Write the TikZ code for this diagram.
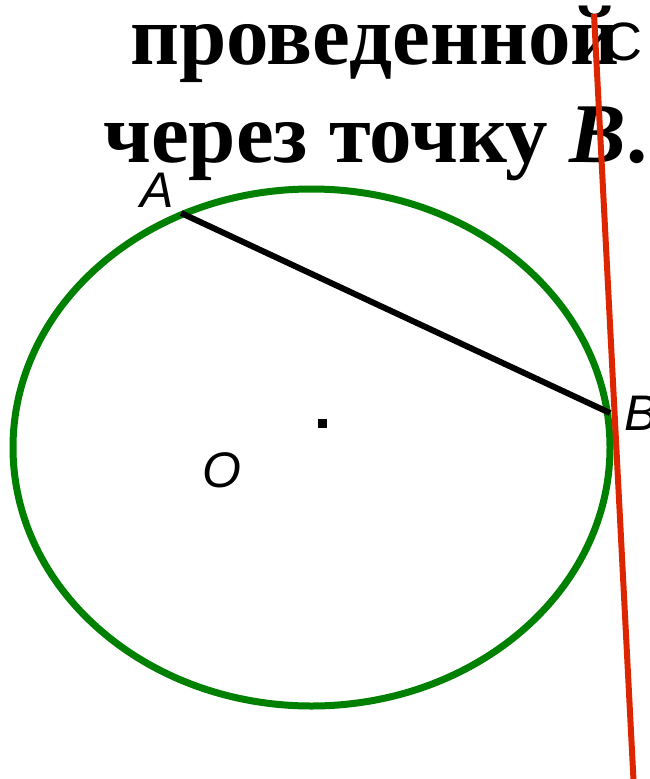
\documentclass[tikz,border=0pt]{standalone}
\usepackage{fontspec}
\setmainfont{Liberation Serif}
\newfontfamily\labelfont{Liberation Sans}
\usetikzlibrary{positioning}
\definecolor{CircGreen}{RGB}{0,128,0}
\definecolor{TanRed}{RGB}{221,38,0}

\begin{document}
\begin{tikzpicture}[x=1pt, y=-1pt,
      ttl/.style={font=\fontsize{85}{90}\selectfont\bfseries, inner sep=0pt,
                  anchor=base west},
      lbl/.style={font=\fontsize{50}{54}\selectfont\labelfont\itshape,
                  inner sep=0pt},
      chord/.style={draw=black, line width=6pt},
      tangent/.style={draw=TanRed, line width=6pt}
    ]
    \useasboundingbox (0,0) rectangle (650,779);

    \node[ttl] (line1) at (130,64) {проведенной};
    \node[ttl] (line2) at (103,162) {через точку \textit{B}.};

    \draw[CircGreen, line width=7pt] (311.5,447.5)
          ellipse [x radius=298.5, y radius=258.5];

    \coordinate (A) at (181,213);
    \coordinate (B) at (610,413);
    \draw[chord] (A) -- (B);

    \node[fill=black, minimum size=9pt, inner sep=0pt] (dot) at (322,423) {};

    \node[lbl]               (labA) at (157,190) {A};
    \node[lbl, anchor=west]  (labB) at (624,413) {B};
    \node[lbl, font=\fontsize{54}{58}\selectfont\labelfont]
                             (labC) at (623,42)  {C};
    \node[lbl]               (labO) at (222,470) {O};

    \coordinate (Ctop) at (594,14);
    \coordinate (Cbot) at (634,790);
    \draw[tangent] (Ctop) -- (Cbot);
  \end{tikzpicture}
\end{document}
